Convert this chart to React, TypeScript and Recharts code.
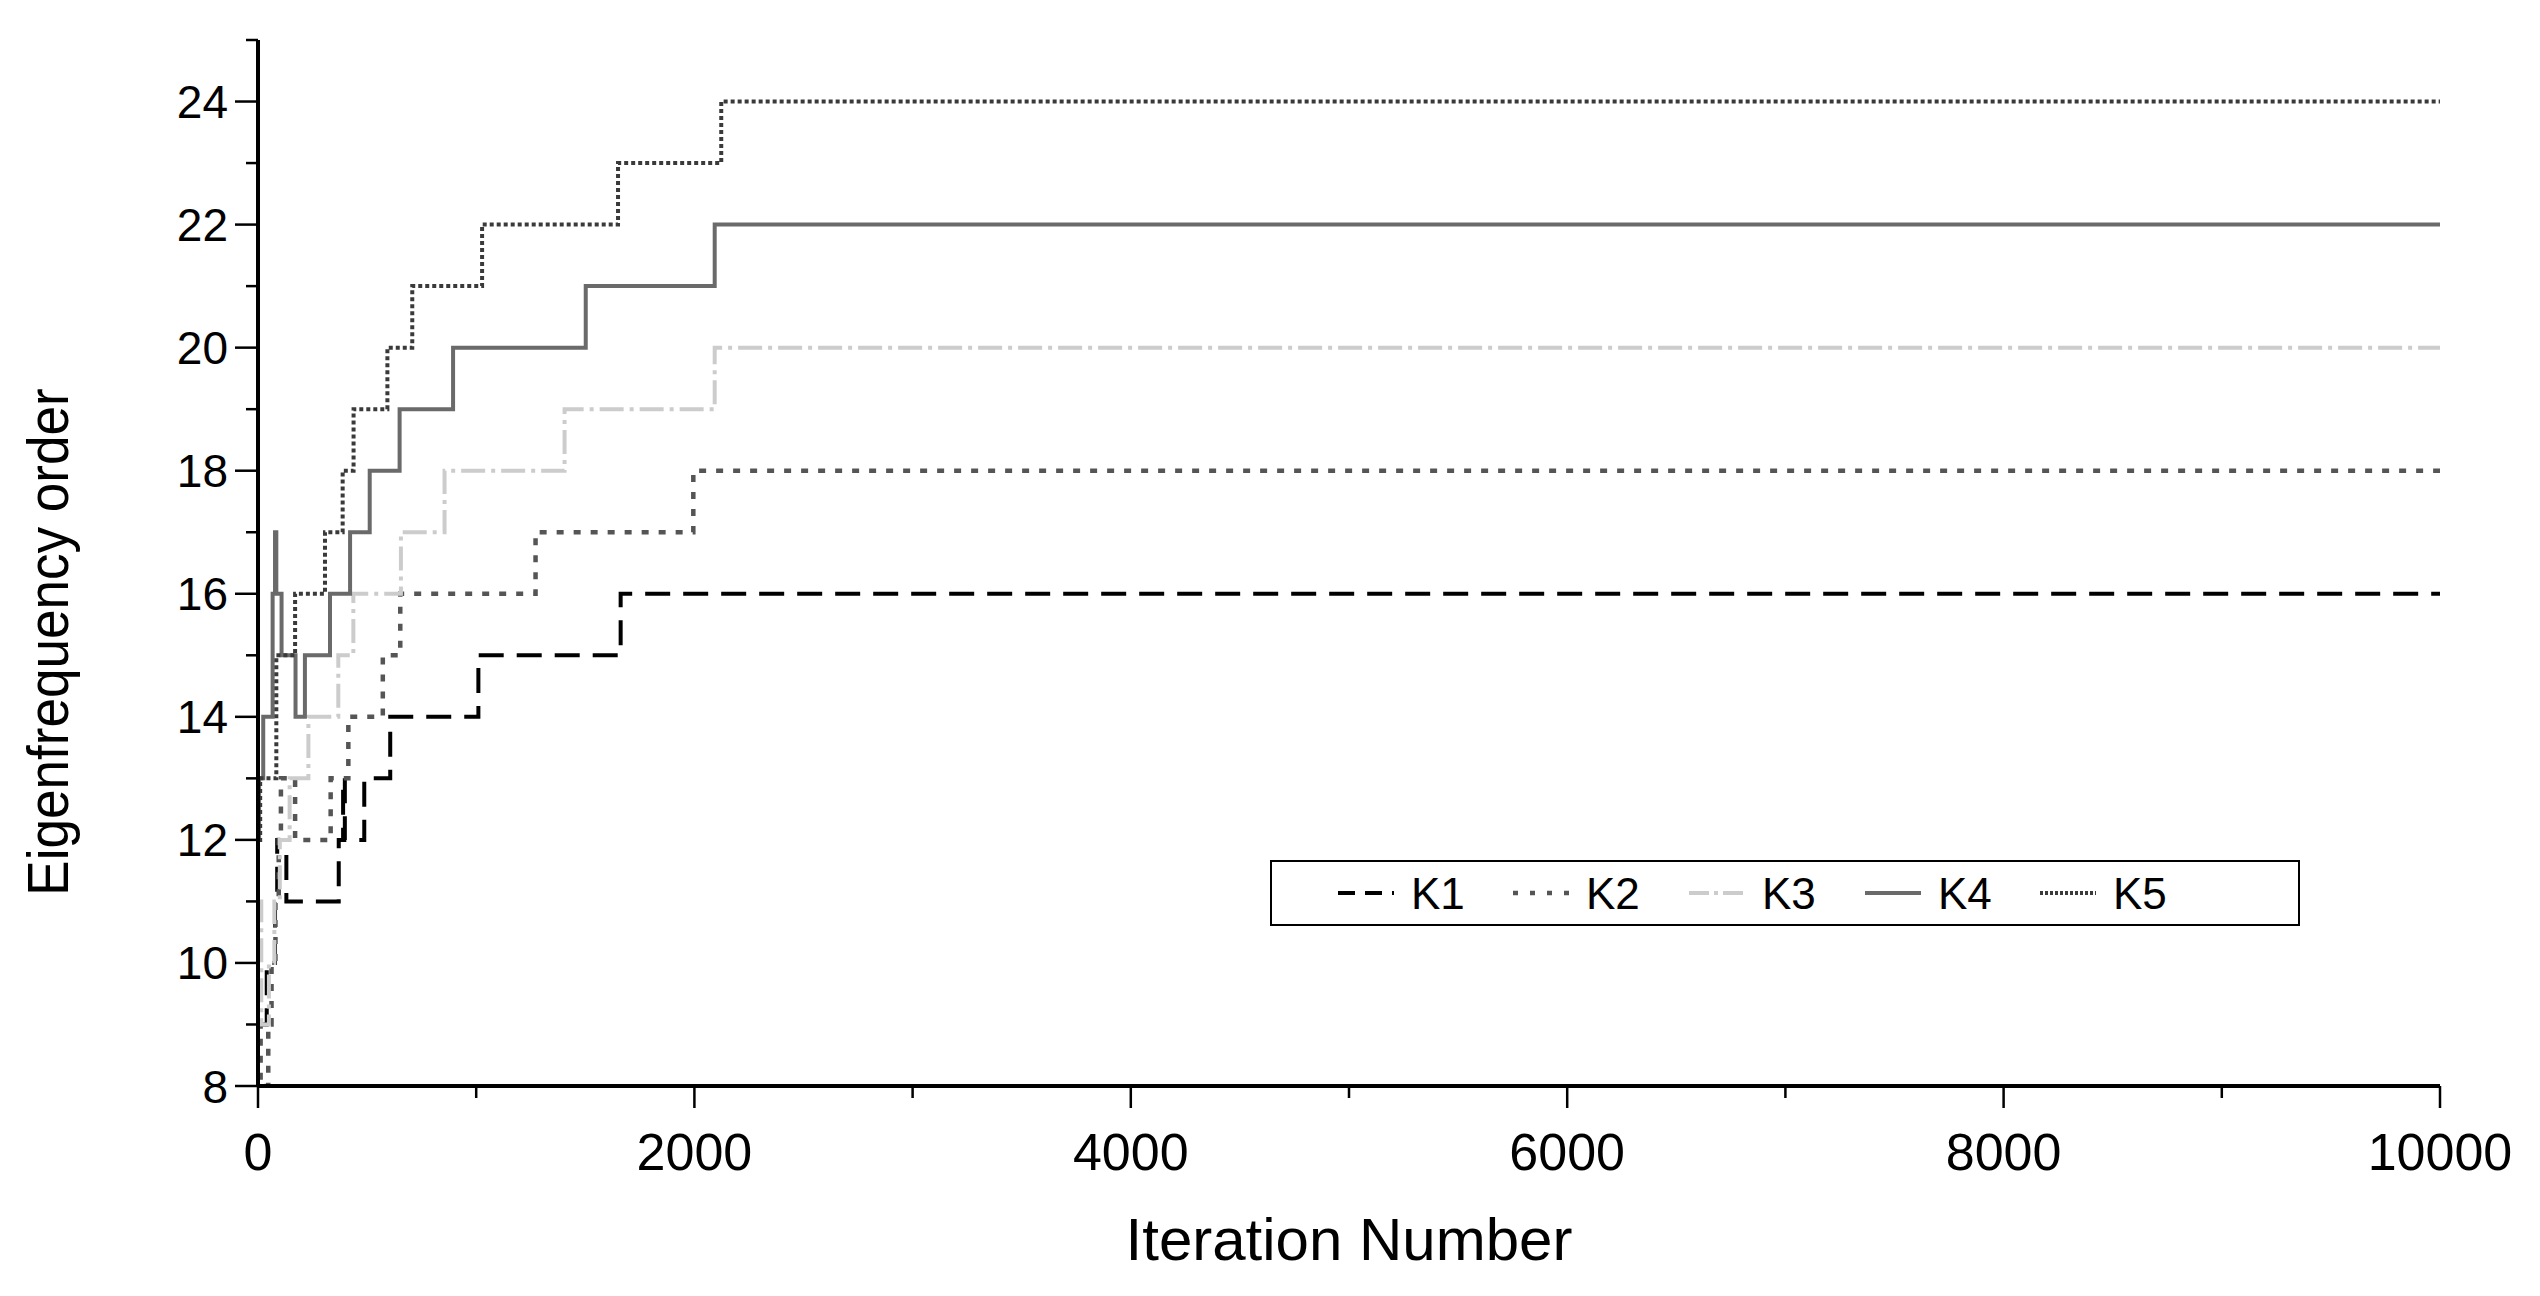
import React from "react";
import { LineChart, Line, XAxis, YAxis } from "recharts";

// ---- data (iteration breakpoints and eigenfrequency order per series) ----
const k1Iter = [0, 40, 78, 88, 130, 370, 390, 398, 487, 606, 1010, 1662, 10000];
const k1Order = [9, 10, 11, 12, 11, 12, 13, 12, 13, 14, 15, 16, 16];

const k2Iter = [0, 12, 47, 62, 80, 95, 105, 170, 333, 414, 572, 652, 1272, 1995, 10000];
const k2Order = [9, 8, 9, 10, 11, 12, 13, 12, 13, 14, 15, 16, 17, 18, 18];

const k3Iter = [0, 15, 50, 75, 100, 145, 231, 368, 437, 655, 855, 1405, 2093, 10000];
const k3Order = [11, 9, 10, 11, 12, 13, 14, 15, 16, 17, 18, 19, 20, 20];

const k4Iter = [0, 5, 24, 67, 78, 84, 108, 172, 215, 330, 422, 512, 649, 894, 1502, 2093, 10000];
const k4Order = [12, 13, 14, 16, 17, 16, 15, 14, 15, 16, 17, 18, 19, 20, 21, 22, 22];

const k5Iter = [0, 10, 84, 170, 307, 388, 438, 593, 707, 1027, 1650, 2123, 10000];
const k5Order = [12, 13, 15, 16, 17, 18, 19, 20, 21, 22, 23, 24, 24];

const seriesNames = ["K1", "K2", "K3", "K4", "K5"];

const xTicks = [0, 1000, 2000, 3000, 4000, 5000, 6000, 7000, 8000, 9000, 10000];
const yTicks = [8, 9, 10, 11, 12, 13, 14, 15, 16, 17, 18, 19, 20, 21, 22, 23, 24, 25];

const xTitle = "Iteration Number";
const yTitle = "Eigenfrequency order";

// ---- styles ----
const FONT = "'Liberation Sans', Arial, sans-serif";
const styles = [
  { color: "#000000", width: 4, dash: "25 13", legendDash: "17 10" },
  { color: "#555555", width: 4.5, dash: "7 10", legendDash: "5 12" },
  { color: "#cccccc", width: 4, dash: "24 6 4 6", legendDash: "20 5 4 5" },
  { color: "#6a6a6a", width: 4, dash: undefined, legendDash: undefined },
  { color: "#3a3a3a", width: 4, dash: "4 3", legendDash: "3 2" },
];

const build = (iters: number[], vals: number[]) => iters.map((x, i) => ({ x, y: vals[i] }));
const seriesData = [
  build(k1Iter, k1Order),
  build(k2Iter, k2Order),
  build(k3Iter, k3Order),
  build(k4Iter, k4Order),
  build(k5Iter, k5Order),
];

const XTick = (props: any) => {
  const { x, y, payload } = props;
  const major = payload.value % 2000 === 0;
  return (
    <g>
      <line x1={x} x2={x} y1={y} y2={y + (major ? 22 : 12)} stroke="#000" strokeWidth={2.5} />
      {major && (
        <text x={x} y={y + 84} textAnchor="middle" fontSize={52} fontFamily={FONT} fill="#000">
          {payload.value}
        </text>
      )}
    </g>
  );
};

const YTick = (props: any) => {
  const { x, y, payload } = props;
  const major = payload.value % 2 === 0 && payload.value <= 24;
  return (
    <g>
      <line x1={x} x2={x - (major ? 23 : 12)} y1={y} y2={y} stroke="#000" strokeWidth={2.5} />
      {major && (
        <text x={x - 30} y={y + 16.5} textAnchor="end" fontSize={46} fontFamily={FONT} fill="#000">
          {payload.value}
        </text>
      )}
    </g>
  );
};

const XLabel = (props: any) => {
  const vb = props.viewBox || { x: 0, y: 0, width: 0 };
  return (
    <text x={vb.x + vb.width / 2} y={vb.y + 174} textAnchor="middle" fontSize={60} fontFamily={FONT} fill="#000">
      {xTitle}
    </text>
  );
};

const YLabel = () => (
  <text
    transform="translate(60,634) rotate(-90) scale(0.915,1)"
    textAnchor="middle"
    fontSize={58}
    fontFamily={FONT}
    fill="#000"
  >
    {yTitle}
  </text>
);

const legendX = [68, 243, 419, 595, 770];

const LegendBox = () => (
  <svg width={1030} height={66} style={{ display: "block" }}>
    <rect x={1} y={1} width={1028} height={64} fill="#fff" stroke="#000" strokeWidth={2} />
    {seriesNames.map((name, i) => (
      <g key={name}>
        <line
          x1={legendX[i]}
          x2={legendX[i] + 56}
          y1={33}
          y2={33}
          stroke={styles[i].color}
          strokeWidth={styles[i].width}
          strokeDasharray={styles[i].legendDash}
        />
        <text x={legendX[i] + 73} y={49} fontSize={44} fontFamily={FONT} fill="#000">
          {name}
        </text>
      </g>
    ))}
  </svg>
);

export default function App() {
  return (
    <div style={{ width: 2524, height: 1280, position: "relative" }}>
      <LineChart width={2524} height={1280} margin={{ top: 32, right: 92, left: 0, bottom: 0 }}>
        <XAxis
          type="number"
          dataKey="x"
          domain={[0, 10000]}
          ticks={xTicks}
          interval={0}
          allowDataOverflow
          height={202}
          tickSize={0}
          tickMargin={0}
          tickLine={false}
          axisLine={{ stroke: "#000", strokeWidth: 4 }}
          tick={<XTick />}
          label={<XLabel />}
        />
        <YAxis
          type="number"
          dataKey="y"
          domain={[8, 25]}
          ticks={yTicks}
          interval={0}
          allowDataOverflow
          width={250}
          tickSize={0}
          tickMargin={0}
          tickLine={false}
          axisLine={{ stroke: "#000", strokeWidth: 4 }}
          tick={<YTick />}
          label={<YLabel />}
        />
        {seriesData.map((d, i) => (
          <Line
            key={seriesNames[i]}
            name={seriesNames[i]}
            data={d}
            dataKey="y"
            type="stepAfter"
            stroke={styles[i].color}
            strokeWidth={styles[i].width}
            strokeDasharray={styles[i].dash}
            dot={false}
            activeDot={false}
            isAnimationActive={false}
          />
        ))}
      </LineChart>
      <div style={{ position: "absolute", left: 1262, top: 852, width: 1030, height: 66 }}>
        <LegendBox />
      </div>
    </div>
  );
}
